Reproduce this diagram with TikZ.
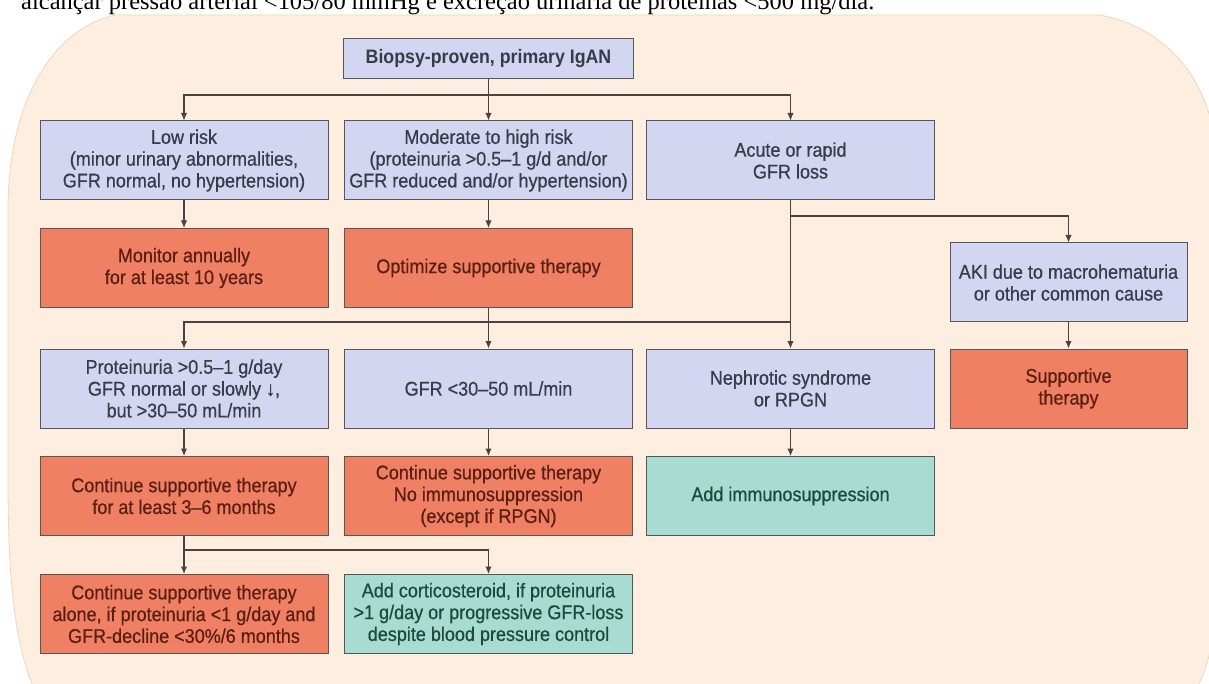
\documentclass[tikz,border=0pt]{standalone}
\usepackage{fontspec}
\setmainfont{Liberation Sans}[FakeStretch=0.91, UprightFeatures={FakeBold=0.6}]
\newfontfamily\seriffont{Liberation Serif}
\usetikzlibrary{arrows.meta}
\definecolor{peach}{HTML}{FDEEDF}
\definecolor{peachedge}{HTML}{EFD6BC}
\definecolor{lavfill}{HTML}{D3D6F0}
\definecolor{lavtext}{HTML}{3A3A4C}
\definecolor{salfill}{HTML}{F08064}
\definecolor{saltext}{HTML}{5A1E12}
\definecolor{tealfill}{HTML}{A8DCD0}
\definecolor{tealtext}{HTML}{1E4A3E}
\definecolor{boxline}{HTML}{55555E}
\definecolor{linec}{HTML}{4A4242}
\begin{document}
\begin{tikzpicture}[x=1pt,y=-1pt,
  conn/.style={draw=linec, line width=1.1pt},
  arr/.style={conn, -{Latex[length=7.5pt,width=6.5pt]}},
  box/.style={draw=boxline, line width=1pt, minimum height=79pt, inner sep=2pt,
    align=center, font=\fontsize{19.8}{21.8}\selectfont},
  lavbox/.style={box, fill=lavfill, text=lavtext},
  salbox/.style={box, fill=salfill, text=saltext},
  tealbox/.style={box, fill=tealfill, text=tealtext},
  colw/.style={minimum width=288pt}
]
\useasboundingbox (0,0) rectangle (1209,684);
% background
\fill[white] (0,0) rectangle (1209,684);
\filldraw[fill=peach, draw=peachedge, line width=0.8pt]
  (8,210) .. controls (8,105) and (50,30) .. (115,15)
  -- (1100,15) .. controls (1165,28) and (1205,75) .. (1215,140)
  -- (1215,600) .. controls (1215,640) and (1208,668) .. (1195,692)
  -- (36,692) .. controls (15,650) and (8,580) .. (8,480) -- cycle;
% cut-off line of text above
\begin{scope}
\clip (0,0) rectangle (1209,684);
\node[anchor=base west, inner sep=0pt] (toptext) at (21,10)
  {\resizebox{853pt}{!}{\seriffont alcançar pressão arterial <105/80 mmHg e excreção urinária de proteínas <500 mg/dia.}};
\end{scope}
% nodes
\node[lavbox, minimum width=290pt, minimum height=40pt, font=\fontsize{19.5}{21.8}\selectfont\bfseries] (top) at (488.5,59) {Biopsy-proven, primary IgAN};
\node[lavbox,colw] (low) at (184,160.5) {Low risk\\(minor urinary abnormalities,\\GFR normal, no hypertension)};
\node[lavbox,colw] (mod) at (488.5,160.5) {Moderate to high risk\\(proteinuria >0.5–1 g/d and/or\\GFR reduced and/or hypertension)};
\node[lavbox,colw] (acute) at (790.5,160.5) {Acute or rapid\\GFR loss};
\node[salbox,colw] (mon) at (184,268) {Monitor annually\\for at least 10 years};
\node[salbox,colw] (opt) at (488.5,268) {Optimize supportive therapy};
\node[lavbox,minimum width=237pt] (aki) at (1068.5,282.5) {AKI due to macrohematuria\\or other common cause};
\node[lavbox,colw] (prot) at (184,388.5) {Proteinuria >0.5–1 g/day\\GFR normal or slowly ↓,\\but >30–50 mL/min};
\node[lavbox,colw] (gfr) at (488.5,388.5) {GFR <30–50 mL/min};
\node[lavbox,colw] (neph) at (790.5,388.5) {Nephrotic syndrome\\or RPGN};
\node[salbox,minimum width=237pt] (supp) at (1068.5,388.5) {Supportive\\therapy};
\node[salbox,colw] (cont1) at (184,496) {Continue supportive therapy\\for at least 3–6 months};
\node[salbox,colw] (cont2) at (488.5,496) {Continue supportive therapy\\No immunosuppression\\(except if RPGN)};
\node[tealbox,colw] (addimm) at (790.5,496) {Add immunosuppression};
\node[salbox,colw] (alone) at (184,614) {Continue supportive therapy\\alone, if proteinuria <1 g/day and\\GFR-decline <30\%/6 months};
\node[tealbox,colw] (cort) at (488.5,614) {Add corticosteroid, if proteinuria\\>1 g/day or progressive GFR-loss\\despite blood pressure control};
% junction coordinates
\coordinate (j1) at (488.5,95);
\coordinate (j2) at (790.5,216);
\coordinate (j3) at (488.5,322);
\coordinate (j3r) at (790.5,322);
\coordinate (j4) at (184,550);
% connectors
\draw[arr] (top.south) -- (mod.north);
\draw[arr] (j1) -| (low.north);
\draw[arr] (j1) -| (acute.north);
\draw[arr] (low.south) -- (mon.north);
\draw[arr] (mod.south) -- (opt.north);
\draw[arr] (acute.south) -- (neph.north);
\draw[arr] (j2) -| (aki.north);
\draw[arr] (opt.south) -- (gfr.north);
\draw[arr] (j3) -| (prot.north);
\draw[conn] (j3) -- (j3r);
\draw[arr] (aki.south) -- (supp.north);
\draw[arr] (prot.south) -- (cont1.north);
\draw[arr] (gfr.south) -- (cont2.north);
\draw[arr] (neph.south) -- (addimm.north);
\draw[arr] (cont1.south) -- (alone.north);
\draw[arr] (j4) -| (cort.north);
\end{tikzpicture}
\end{document}
